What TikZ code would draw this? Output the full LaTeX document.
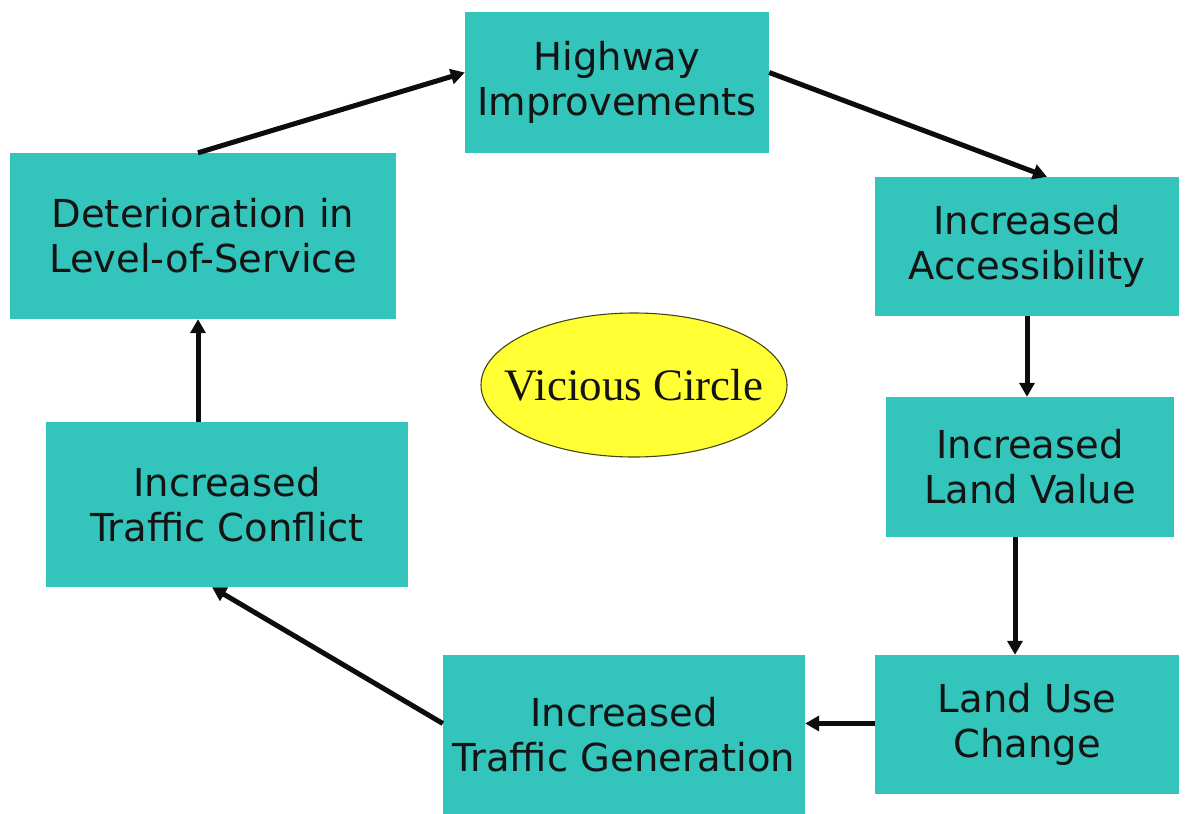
\documentclass[tikz,border=0pt]{standalone}
\usepackage{fontspec}
\setmainfont{DejaVu Sans}
\newfontfamily\ellfont{Liberation Serif}
\usetikzlibrary{arrows.meta,calc,shapes.geometric}
\definecolor{boxteal}{RGB}{51,196,187}
\definecolor{ellyellow}{RGB}{255,255,51}
\definecolor{ellline}{RGB}{70,70,20}
\tikzset{
  stepbox/.style={rectangle, fill=boxteal, draw=none, align=center, inner sep=0pt,
    text=black!92, font=\fontsize{38.5}{45}\selectfont},
  flow/.style={line width=5pt, draw=black!95, -{Triangle[length=14pt,width=15pt]}}
}
\begin{document}
\begin{tikzpicture}[x=1pt,y=-1pt]
\useasboundingbox[fill=white] (0,0) rectangle (1187,814);
\node[stepbox, minimum width=304pt, minimum height=141pt] (hw) at (617,82.5) {Highway\\Improvements};
\node[stepbox, minimum width=386pt, minimum height=166pt] (det) at (203,236) {Deterioration in\\Level-of-Service};
\node[stepbox, minimum width=304pt, minimum height=139pt] (acc) at (1027,246.5) {Increased\\Accessibility};
\node[stepbox, minimum width=288pt, minimum height=140pt] (lv) at (1030,467) {Increased\\Land Value};
\node[stepbox, minimum width=304pt, minimum height=139pt] (lu) at (1027,724.5) {Land Use\\Change};
\node[stepbox, minimum width=362pt, minimum height=159pt] (tg) at (624,734.5) {Increased\\Traffic Generation};
\node[stepbox, minimum width=362pt, minimum height=165pt] (tc) at (227,504.5) {Increased\\Traffic Conflict};
\node[ellipse, fill=ellyellow, draw=ellline, line width=1.1pt, minimum width=306pt, minimum height=144pt, inner sep=0pt,
  text=black!92, font=\ellfont\fontsize{45}{50}\selectfont] (vc) at (634,385) {\makebox[0pt]{Vicious Circle}};

\draw[flow] ($(det.north)+(-5,0)$) -- ($(hw.west)+(0,-10)$);
\draw[flow] ($(hw.east)+(0,-10)$) -- ($(acc.north)+(20,0)$);
\draw[flow] (acc.south) -- (acc.south |- lv.north);
\draw[flow] ($(lv.south)+(-15,0)$) coordinate (lvs) -- (lvs |- lu.north);
\draw[flow] ($(lu.west)+(0,-1)$) coordinate (luw) -- (luw -| tg.east);
\draw[flow] ($(tg.west)+(0,-11)$) -- ($(tc.south)+(-15,0)$);
\draw[flow] ($(tc.north)+(-29,0)$) coordinate (tcn) -- (tcn |- det.south);
\end{tikzpicture}
\end{document}
